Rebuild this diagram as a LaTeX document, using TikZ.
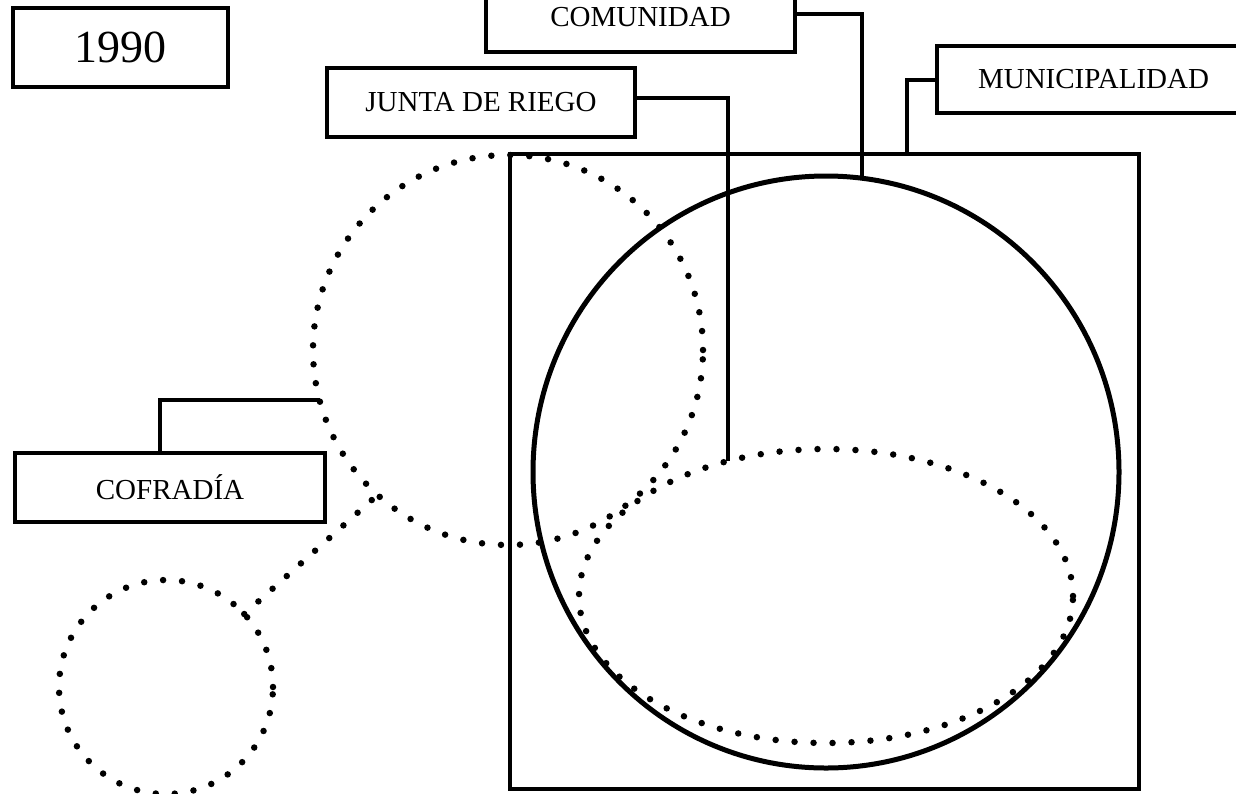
\documentclass[tikz,border=0pt]{standalone}
\usepackage{fontspec}
\setmainfont{Liberation Serif}
\usetikzlibrary{shapes.geometric,calc}
\begin{document}
\begin{tikzpicture}[x=1pt,y=-1pt,
  labelbox/.style={draw, line width=4.5pt, inner sep=0pt, outer sep=0pt, minimum height=69pt, minimum width=309pt, font=\fontsize{29}{30}\selectfont},
  conn/.style={line width=4pt},
  solidline/.style={line width=4.5pt},
  dotline/.style={line width=6.5pt, line cap=round, dash pattern=on 0pt off 19pt},
  shapebase/.style={draw, inner sep=0pt, outer sep=0pt},
]
\useasboundingbox (0,0) rectangle (1236,793);
% label boxes
\node[labelbox, minimum width=215pt, minimum height=79pt, font=\fontsize{46}{48}\selectfont] (year) at (120.5,47.5) {1990};
\node[labelbox] (comunidad) at (640.5,17.5) {COMUNIDAD};
\node[labelbox, minimum width=308pt] (junta) at (481,102.5) {JUNTA DE RIEGO};
\node[labelbox, minimum width=313pt, minimum height=67pt] (muni) at (1093.5,79.5) {MUNICIPALIDAD};
\node[labelbox, minimum width=310pt] (cofradia) at (170,487.5) {COFRADÍA};
% square and circles
\node[shapebase, solidline, minimum width=629pt, minimum height=635pt] (square) at (824.5,471.5) {};
\node[shapebase, ellipse, line width=5pt, minimum width=586pt, minimum height=592pt] (comcirc) at (826,472) {};
\node[shapebase, circle, dotline, minimum size=390pt] (bigdot) at (508,350) {};
\node[shapebase, ellipse, dotline, minimum width=494pt, minimum height=294pt] (riego) at (826,596) {};
\node[shapebase, circle, dotline, minimum size=214pt] (smalldot) at (166,687) {};
% connectors
\draw[conn] ([yshift=3.5pt]comunidad.east) -| (comcirc.83);
\draw[conn] ([yshift=4.5pt]junta.east) -| (riego.126);
\draw[conn] (muni.west) -| ($(square.north west)!0.631!(square.north east)$);
\draw[conn] ([xshift=-10pt]cofradia.north) |- (bigdot.195);
\draw[dotline] (smalldot.43) -- (bigdot.228);
\end{tikzpicture}
\end{document}
